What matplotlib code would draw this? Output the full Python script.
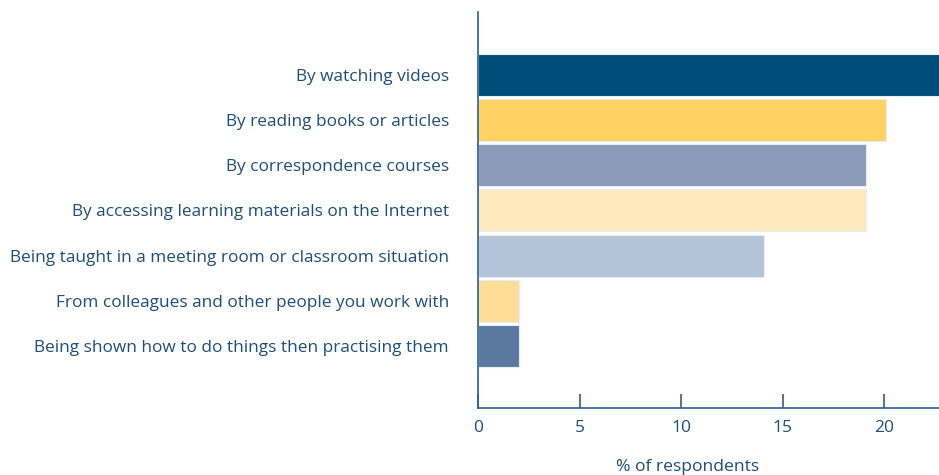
import matplotlib
matplotlib.use("Agg")
import matplotlib.pyplot as plt

categories = [
    "By watching videos",
    "By reading books or articles",
    "By correspondence courses",
    "By accessing learning materials on the Internet",
    "Being taught in a meeting room or classroom situation",
    "From colleagues and other people you work with",
    "Being shown how to do things then practising them",
]
values = [23.0, 20.1, 19.1, 19.1, 14.1, 2.0, 2.0]
colors = ["#004d7a", "#ffd262", "#8c9aba", "#ffe9bd", "#b4c4d8", "#ffdd99", "#5a78a0"]
xticks = [0, 5, 10, 15, 20]

text_color = "#1d4f7c"
axis_color = "#2a6090"

plt.rcParams['font.family'] = ['Open Sans', 'DejaVu Sans']

fig = plt.figure(figsize=(9.39, 4.75), dpi=100)
ax = fig.add_axes([478/939, (475-408)/475, 1 - 478/939, (408-12)/475])

pos = list(range(len(categories)))
ax.barh(pos, values, height=0.93, color=colors, edgecolor="#e8ecf4", linewidth=0.8)

ax.set_xlim(0, 22.7)
ax.set_ylim(7.37, -1.39)

for s in ["top", "right"]:
    ax.spines[s].set_visible(False)
ax.spines["left"].set_color(axis_color)
ax.spines["bottom"].set_color(axis_color)
ax.spines["left"].set_linewidth(1.2)
ax.spines["bottom"].set_linewidth(1.2)

ax.set_xticks(xticks)
ax.set_xticklabels([str(t) for t in xticks], fontsize=12.5, color=text_color)
ax.tick_params(axis="x", direction="in", length=10, width=1.2, color=axis_color, pad=9)
ax.set_yticks(pos)
ax.set_yticklabels(categories, fontsize=12.4, color=text_color)
ax.tick_params(axis="y", length=0, pad=21)

ax.set_xlabel("% of respondents", fontsize=12.6, color=text_color)
ax.xaxis.set_label_coords((688-478)/(939-478), -0.13)

fig.savefig("out.png", dpi=100)
